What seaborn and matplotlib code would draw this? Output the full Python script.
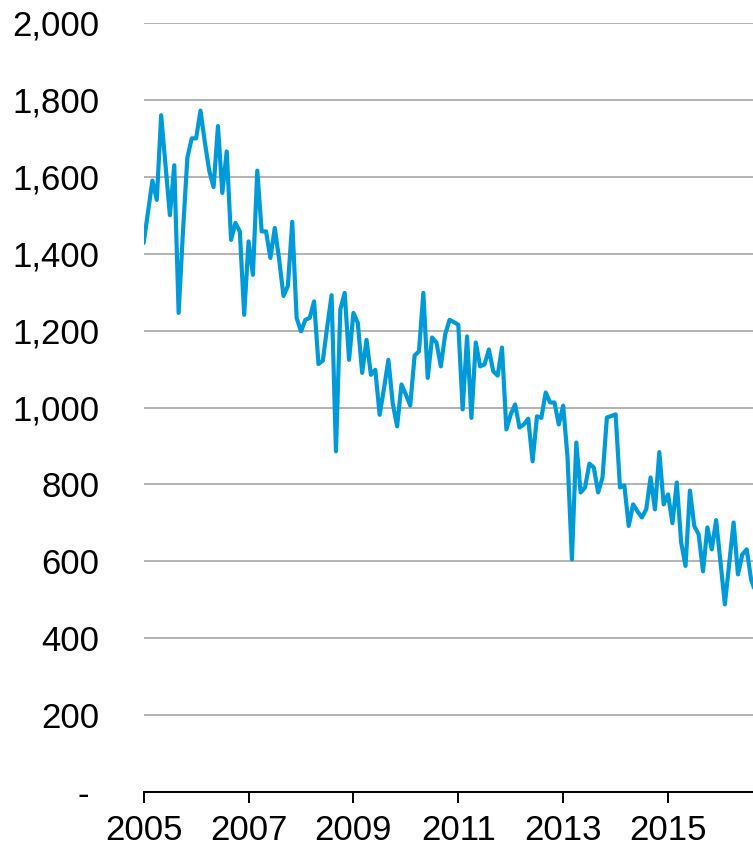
import numpy as np
import pandas as pd
import matplotlib
matplotlib.use('Agg')
import matplotlib.pyplot as plt
import seaborn as sns

# monthly values, starting Jan 2005
values = [
    1428, 1510, 1590, 1540, 1760, 1630, 1500, 1630, 1246, 1460,
    1650, 1700, 1700, 1772, 1690, 1616, 1573, 1732, 1558, 1666,
    1436, 1480, 1458, 1241, 1432, 1345, 1616, 1458, 1458, 1389,
    1467, 1385, 1290, 1316, 1483, 1233, 1198, 1228, 1233, 1276,
    1113, 1122, 1210, 1292, 886, 1255, 1298, 1124, 1246, 1220,
    1090, 1176, 1085, 1098, 981, 1050, 1124, 1010, 951, 1060,
    1034, 1005, 1135, 1146, 1298, 1077, 1182, 1169, 1107, 1190,
    1228, 1222, 1215, 995, 1185, 973, 1169, 1107, 1112, 1151,
    1094, 1083, 1156, 943, 982, 1008, 948, 956, 971, 860,
    977, 973, 1039, 1013, 1013, 956, 1005, 870, 605, 909,
    779, 792, 854, 844, 779, 818, 974, 978, 982, 792,
    797, 692, 748, 730, 714, 735, 818, 735, 884, 748,
    774, 699, 805, 649, 588, 784, 692, 670, 574, 688,
    631, 707, 597, 488, 595, 701, 566, 618, 631, 553,
    520,
]
start_year = 2005
year_ticks = [2005, 2007, 2009, 2011, 2013, 2015]
y_ticks = [0, 200, 400, 600, 800, 1000, 1200, 1400, 1600, 1800, 2000]
y_labels = ['- ', '200', '400', '600', '800', '1,000', '1,200', '1,400',
            '1,600', '1,800', '2,000']

df = pd.DataFrame({'year': start_year + np.arange(len(values)) / 12,
                   'value': values})

sns.set_style('white')
plt.rcParams['font.family'] = ['Liberation Sans', 'DejaVu Sans']

fig = plt.figure(figsize=(7.53, 8.51), dpi=100)
ax = fig.add_axes([0.1908, 0.0693, 0.8092, 0.9037])

sns.lineplot(x='year', y='value', data=df, ax=ax, color='#009AD9',
             linewidth=3.0)

ax.set_xlim(2005, 2016.62)
ax.set_ylim(0, 2000)
ax.set_xticks(year_ticks)
ax.set_xticklabels([str(y) for y in year_ticks])
ax.set_yticks(y_ticks)
ax.set_yticklabels(y_labels)
ax.set_xlabel('')
ax.set_ylabel('')

ax.yaxis.grid(True, color='#A6A6A6', linewidth=1.2)
ax.set_axisbelow(True)
for side in ['top', 'right', 'left']:
    ax.spines[side].set_visible(False)
ax.spines['bottom'].set_color('black')
ax.spines['bottom'].set_linewidth(1.4)

ax.tick_params(axis='x', direction='out', length=8, width=1.4,
               color='black', labelsize=25, pad=8, bottom=True)
ax.tick_params(axis='y', length=0, labelsize=25, pad=32)
for lbl in ax.get_xticklabels() + ax.get_yticklabels():
    lbl.set_color('black')

fig.savefig('out.png', dpi=100)
